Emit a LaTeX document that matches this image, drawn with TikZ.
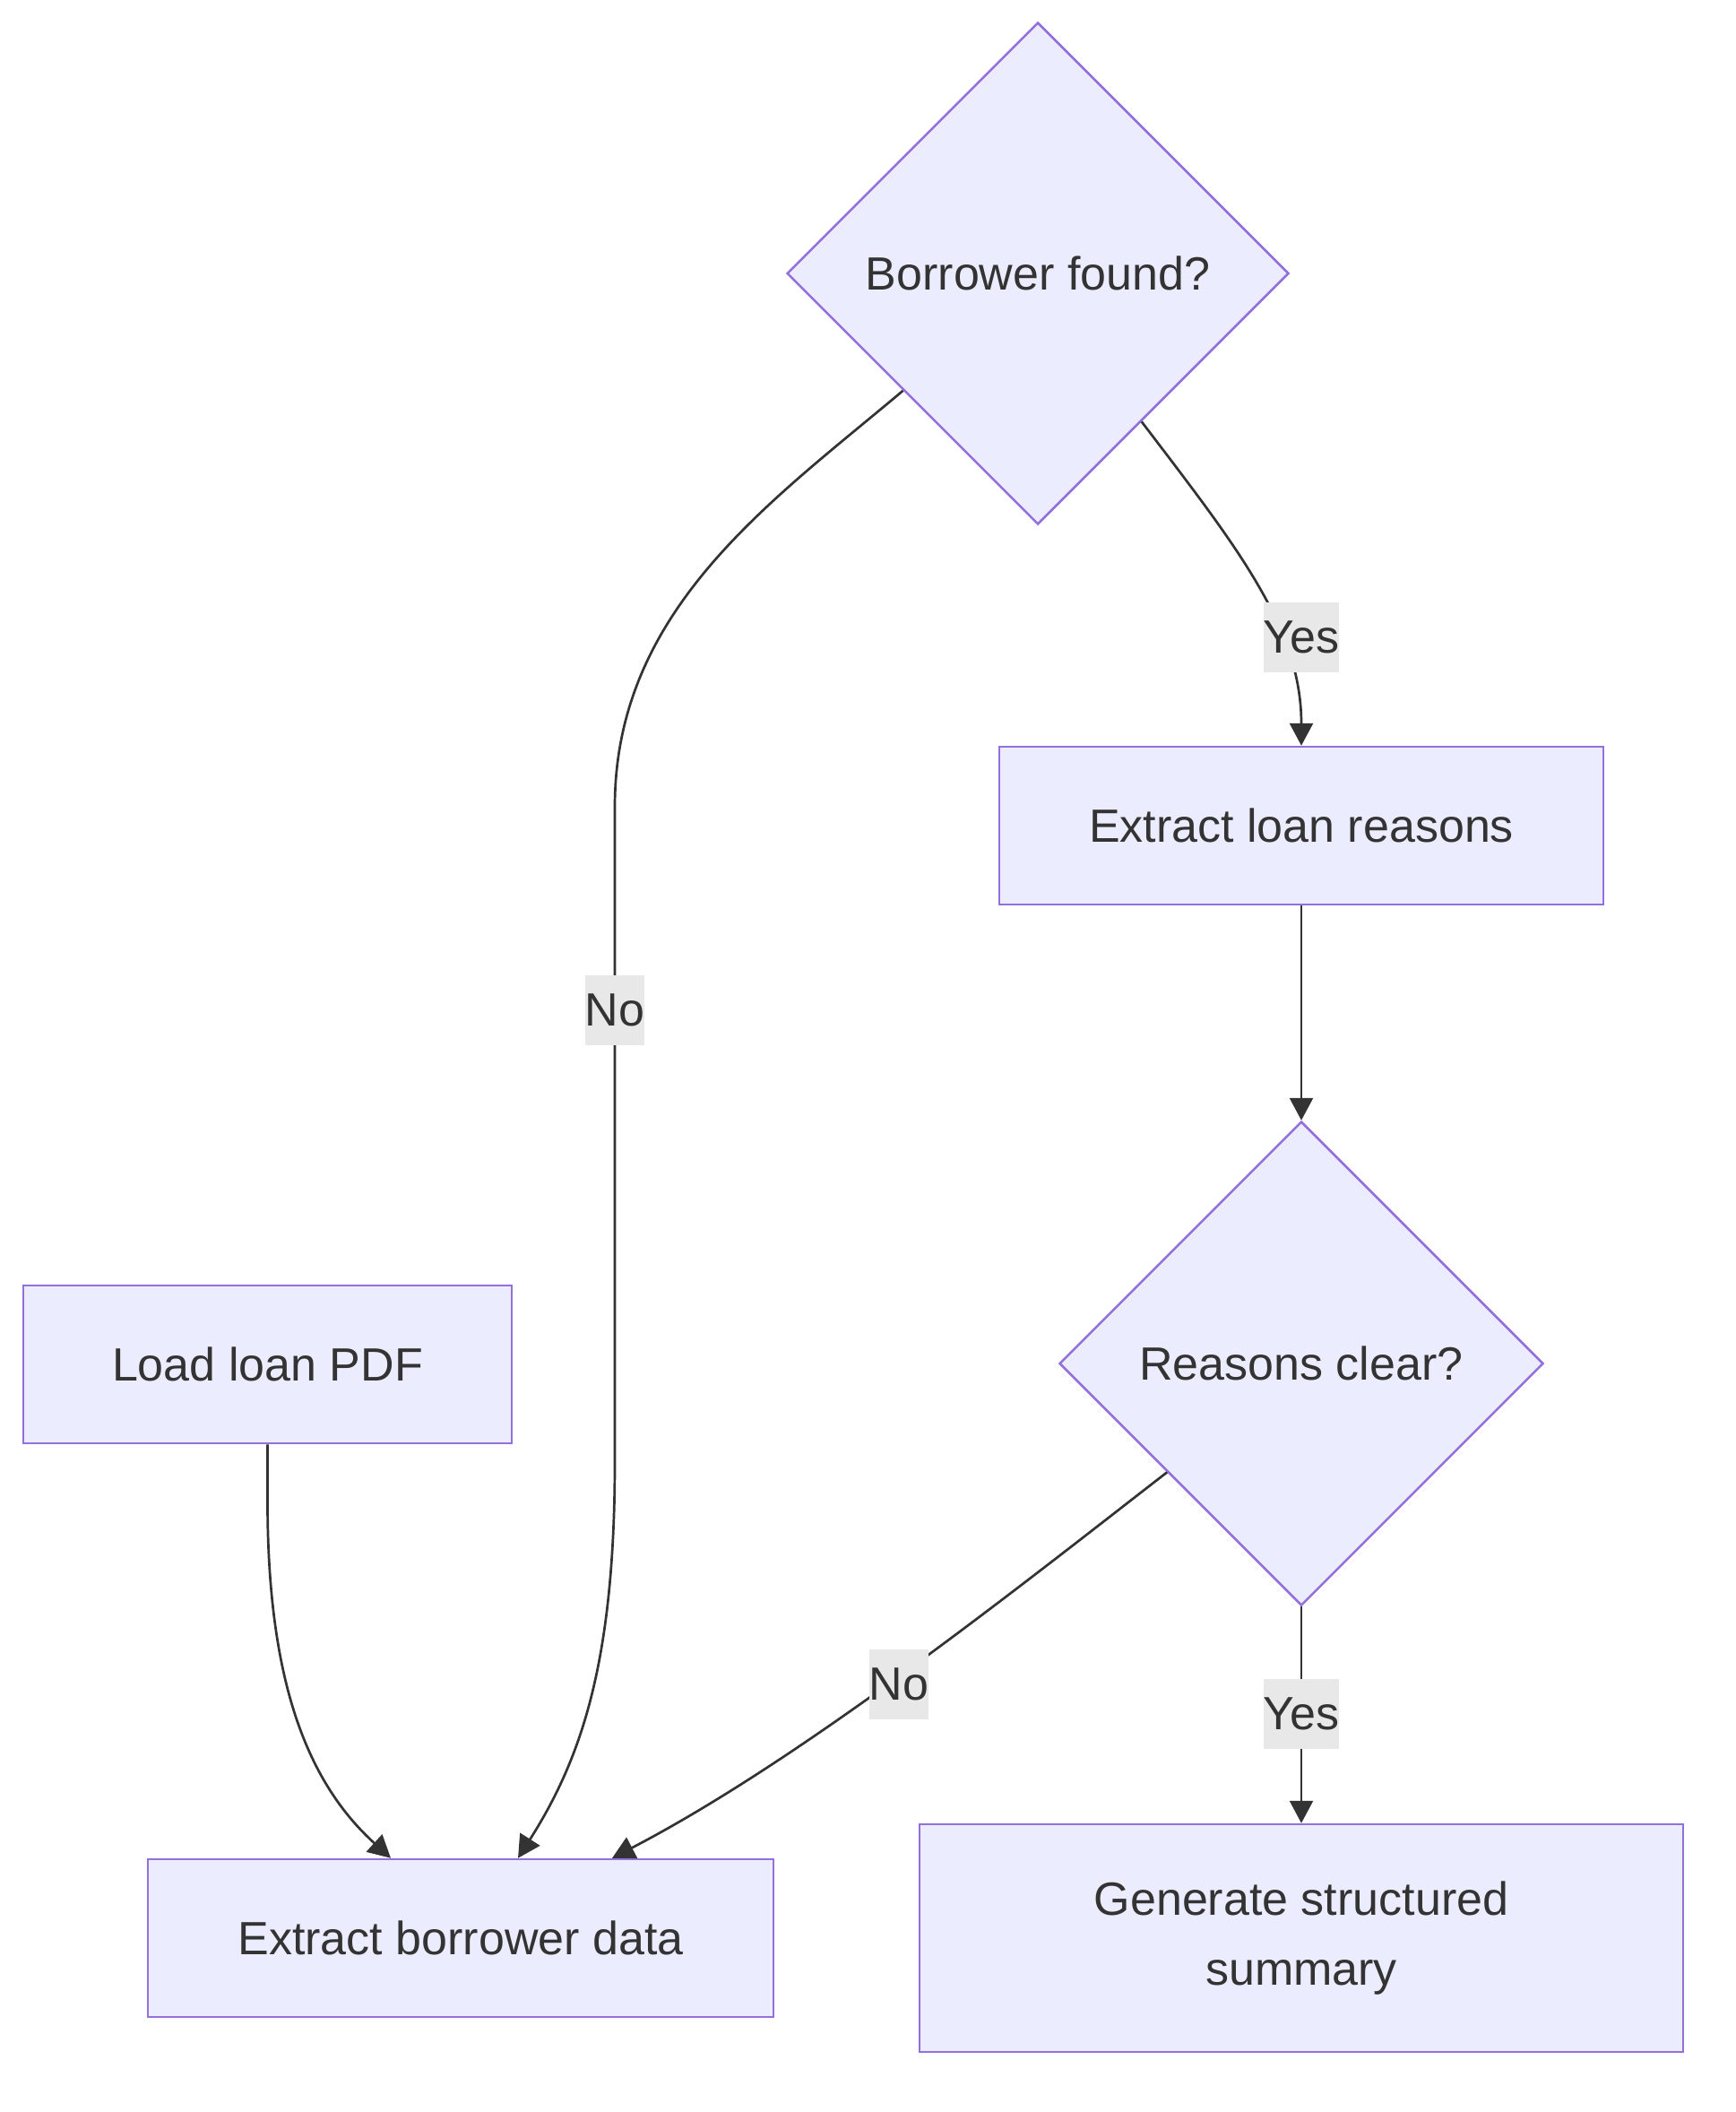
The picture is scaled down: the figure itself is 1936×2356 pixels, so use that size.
\documentclass[tikz,border=0pt]{standalone}
\usepackage{fontspec}
\setmainfont{Liberation Sans}
\usetikzlibrary{shapes.geometric,arrows.meta}
\definecolor{nodefill}{HTML}{ECECFF}
\definecolor{nodeborder}{HTML}{9370DB}
\definecolor{inktext}{HTML}{333333}
\definecolor{labelbg}{HTML}{E8E8E8}
\tikzset{
  boxnode/.style={rectangle, draw=nodeborder, fill=nodefill, line width=2.5pt, text=inktext, inner sep=0pt, align=center},
  diamnode/.style={diamond, aspect=1, draw=nodeborder, fill=nodefill, line width=2.5pt, text=inktext, inner sep=0pt},
  edgeline/.style={draw=inktext, line width=2.7pt, -{Triangle[length=25pt,width=26pt]}},
  lblnode/.style={fill=labelbg, text=inktext, inner xsep=0pt, inner ysep=0pt, minimum height=78pt}
}
\begin{document}
\begin{tikzpicture}[x=1pt,y=-1pt,font=\fontsize{52}{78}\selectfont]
\path[use as bounding box, fill=white] (0,0) rectangle (1936,2356);

\node[diamnode, minimum width=560pt, minimum height=560pt] (d1) at (1158,305) {Borrower found?};
\node[boxnode, minimum width=674pt, minimum height=176pt] (elr) at (1452,921) {Extract loan reasons};
\node[diamnode, minimum width=540pt, minimum height=540pt] (d2) at (1452,1521) {Reasons clear?};
\node[boxnode, minimum width=545pt, minimum height=176pt] (load) at (298.5,1522) {Load loan PDF};
\node[boxnode, minimum width=698pt, minimum height=176pt] (ebd) at (514,2162) {Extract borrower data};
\node[boxnode, minimum width=852pt, minimum height=254pt] (gen) at (1452,2162) {Generate structured\\summary};

% Load -> Extract borrower data
\draw[edgeline] (load.south) -- (298.5,1675) .. controls (298.5,1880) and (345,1990) .. ([xshift=-78pt]ebd.north);
% Borrower found? -> Extract borrower data (No)
\draw[edgeline] (d1.-139) .. controls (860,560) and (686,680) .. (686,900) -- (686,1630) .. controls (686,1850) and (650,1960) .. ([xshift=64pt]ebd.north);
% Borrower found? -> Extract loan reasons (Yes)
\draw[edgeline] (d1.-55) .. controls (1380,610) and (1452,700) .. (elr.north);
% Extract loan reasons -> Reasons clear?
\draw[edgeline] (elr.south) -- (d2.north);
% Reasons clear? -> Extract borrower data (No)
\draw[edgeline] (d2.-141) .. controls (1150,1760) and (900,1960) .. ([xshift=169pt]ebd.north);
% Reasons clear? -> Generate (Yes)
\draw[edgeline] (d2.south) -- (gen.north);

\node[lblnode] (lyes1) at (1452,711) {Yes};
\node[lblnode] (lno1) at (686,1127) {No};
\node[lblnode] (lno2) at (1003,1879) {No};
\node[lblnode] (lyes2) at (1452,1912) {Yes};
\end{tikzpicture}
\end{document}
